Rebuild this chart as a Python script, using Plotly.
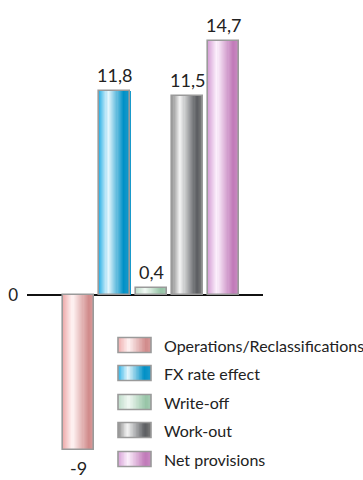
import plotly.graph_objects as go

# Data
categories = ["Operations/Reclassifications", "FX rate effect", "Write-off", "Work-out", "Net provisions"]
values = [-9.0, 11.8, 0.4, 11.5, 14.7]

# Cylindrical shading per series: (position across bar, colour)
gradients = [
    [(0.0, "#eeacac"), (0.32, "#fff3f3"), (0.85, "#d08a8a"), (1.0, "#d99a9a")],
    [(0.0, "#2fb2e6"), (0.30, "#e6f7fd"), (0.80, "#0090c6"), (1.0, "#1c9bcc")],
    [(0.0, "#bcdac8"), (0.32, "#f2f9f4"), (0.85, "#96c4a6"), (1.0, "#a6ccb4")],
    [(0.0, "#8a8a8a"), (0.28, "#f5f5f5"), (0.82, "#5a5c60"), (1.0, "#7c7c7c")],
    [(0.0, "#d6a0d6"), (0.30, "#fcf0fc"), (0.82, "#c079b8"), (1.0, "#c98ac2")],
]

W, H = 363, 480
PLOT_L, PLOT_R = 27, 263
FONT = "Lato"
TEXT_COL = "#222222"
EDGE_COL = "#9a9a9a"


def hex_to_rgb(h):
    h = h.lstrip("#")
    return tuple(int(h[i:i + 2], 16) for i in (0, 2, 4))


def sample(stops, t):
    for (p0, c0), (p1, c1) in zip(stops, stops[1:]):
        if p0 <= t <= p1:
            f = 0 if p1 == p0 else (t - p0) / (p1 - p0)
            a, b = hex_to_rgb(c0), hex_to_rgb(c1)
            return "rgb(%d,%d,%d)" % tuple(round(a[i] + (b[i] - a[i]) * f) for i in range(3))
    return stops[-1][1]


def fmt(v):
    s = f"{v:.1f}".rstrip("0").rstrip(".")
    return s.replace(".", ",")


fig = go.Figure()

N = 28
bar_w = 0.855
slice_w = bar_w / N
xs = list(range(len(categories)))

# Shaded body of each bar, built from thin vertical slices
for j in range(N):
    t = (j + 0.5) / N
    w = slice_w * (1.6 if j < N - 1 else 1.0)
    fig.add_trace(go.Bar(
        x=xs, y=values,
        width=[w] * len(xs),
        offset=[-bar_w / 2 + j * slice_w] * len(xs),
        marker=dict(color=[sample(g, t) for g in gradients], line=dict(width=0)),
        showlegend=False, hoverinfo="skip",
    ))

# Outline
fig.add_trace(go.Bar(
    x=xs, y=values, width=[bar_w] * len(xs),
    marker=dict(color="rgba(0,0,0,0)", line=dict(color=EDGE_COL, width=1.6)),
    showlegend=False, hoverinfo="skip",
))

annotations = []

# Value labels at the end of each bar
for x, v in zip(xs, values):
    annotations.append(dict(
        x=x, y=v, xref="x", yref="y", text=fmt(v), showarrow=False,
        yanchor="top" if v < 0 else "bottom", borderpad=0,
        yshift=-6 if v < 0 else 4,
        font=dict(family=FONT, size=18, color=TEXT_COL),
    ))


# Pixel -> paper helpers for the legend block
def px(x):
    return (x - PLOT_L) / (PLOT_R - PLOT_L)


def py(y):
    return 1 - y / H


shapes = []
sw_x0, sw_x1, sw_h = 118, 151, 15
row_y = [345, 373, 402, 430, 459]
M = 22
for g, name, cy in zip(gradients, categories, row_y):
    for j in range(M):
        t = (j + 0.5) / M
        x0 = sw_x0 + (sw_x1 - sw_x0) * j / M
        x1 = sw_x0 + (sw_x1 - sw_x0) * (j + 1.5) / M
        shapes.append(dict(type="rect", xref="paper", yref="paper",
                           x0=px(x0), x1=px(min(x1, sw_x1)),
                           y0=py(cy - sw_h / 2), y1=py(cy + sw_h / 2),
                           fillcolor=sample(g, t), line=dict(width=0), layer="above"))
    shapes.append(dict(type="rect", xref="paper", yref="paper",
                       x0=px(sw_x0), x1=px(sw_x1),
                       y0=py(cy - sw_h / 2), y1=py(cy + sw_h / 2),
                       fillcolor="rgba(0,0,0,0)", line=dict(color=EDGE_COL, width=1.6),
                       layer="above"))
    annotations.append(dict(xref="paper", yref="paper", x=px(162), y=py(cy),
                            xanchor="left", yanchor="middle", showarrow=False,
                            text=name, font=dict(family=FONT, size=16, color=TEXT_COL)))

scale = 17.27
zero_y = 295
fig.update_layout(
    width=W, height=H,
    margin=dict(l=PLOT_L, r=W - PLOT_R, t=0, b=0),
    paper_bgcolor="white", plot_bgcolor="white",
    barmode="overlay", bargap=0,
    xaxis=dict(range=[(PLOT_L - 78.5) / 36.25, (PLOT_R - 78.5) / 36.25],
               showgrid=False, zeroline=False, showticklabels=False, ticks=""),
    yaxis=dict(range=[-(H - zero_y) / scale, zero_y / scale],
               showgrid=False, zeroline=True, zerolinecolor="#111111", zerolinewidth=1.6,
               tickvals=[0], ticktext=["0"], ticks="", ticklabelstandoff=8,
               tickfont=dict(family=FONT, size=17, color=TEXT_COL)),
    shapes=shapes, annotations=annotations,
    font=dict(family=FONT, color=TEXT_COL),
)

fig.write_html("out.html")
